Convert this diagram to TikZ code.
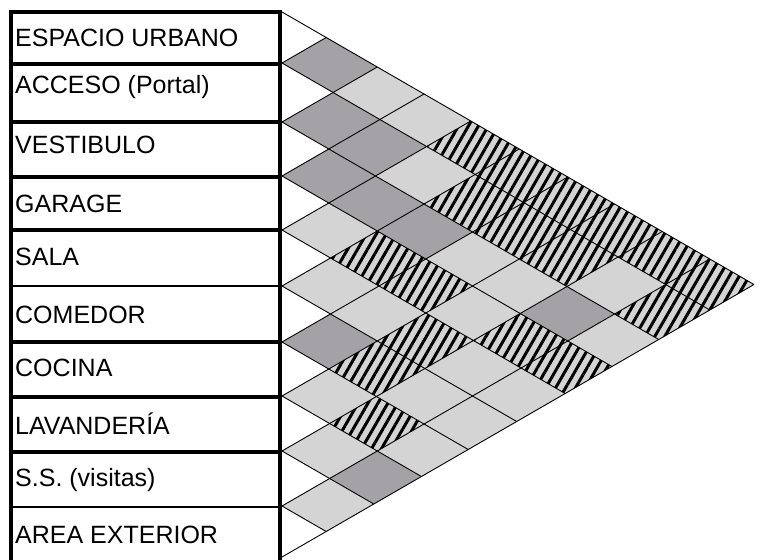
\documentclass[tikz,border=0pt]{standalone}
\usepackage{fontspec}
\setmainfont{Liberation Sans}
\usetikzlibrary{patterns.meta}
\definecolor{cDark}{RGB}{164,162,166}
\definecolor{cLight}{RGB}{212,212,212}
\begin{document}
\begin{tikzpicture}[x=1pt,y=-1pt,
  gridline/.style={black, line width=0.9pt},
  boxline/.style={black, line width=3.2pt},
  thinbox/.style={black, line width=2.2pt},
  hatchcell/.style={pattern={Lines[angle=60,distance=8.6pt,line width=3pt]},pattern color=black},
  lbl/.style={anchor=base west, inner sep=0pt, font=\fontsize{25}{30}\selectfont}]
\useasboundingbox (0,0) rectangle (759,559);
\clip (0,0) rectangle (759,559);
\def\B{{12,63,122,176,230,286,342,396,451,506,557}}
\def\xz{282}
\def\sl{0.57735}
% grid points: intersection of down-line from b_a and up-line from b_c
\foreach \a in {0,...,10}{
  \foreach \c in {\a,...,10}{
    \pgfmathsetmacro\ya{\B[\a]}
    \pgfmathsetmacro\yc{\B[\c]}
    \coordinate (P\a-\c) at ({\xz+(\yc-\ya)/(2*\sl)},{(\ya+\yc)/2});
  }
}
% dark cells
\foreach \i/\j in {1/2,2/3,3/4,6/7,2/4,3/5,8/10,3/6,3/9}{
  \pgfmathtruncatemacro\im{\i-1}
  \pgfmathtruncatemacro\jm{\j-1}
  \fill[cDark] (P\im-\jm) -- (P\im-\j) -- (P\i-\j) -- (P\i-\jm) -- cycle;
}
% light cells
\foreach \i/\j in {4/5,5/6,7/8,8/9,9/10,1/3,5/7,1/4,2/5,6/9,7/10,3/7,4/8,5/9,6/10,3/8,5/10,2/9,3/10}{
  \pgfmathtruncatemacro\im{\i-1}
  \pgfmathtruncatemacro\jm{\j-1}
  \fill[cLight] (P\im-\jm) -- (P\im-\j) -- (P\i-\j) -- (P\i-\jm) -- cycle;
}
% hatched cells
\foreach \i/\j in {4/6,6/8,7/9,4/7,5/8,1/5,2/6,1/6,2/7,4/9,1/7,2/8,4/10,1/8,1/9,2/10,1/10}{
  \pgfmathtruncatemacro\im{\i-1}
  \pgfmathtruncatemacro\jm{\j-1}
  \fill[cLight] (P\im-\jm) -- (P\im-\j) -- (P\i-\j) -- (P\i-\jm) -- cycle;
  \fill[hatchcell] (P\im-\jm) -- (P\im-\j) -- (P\i-\j) -- (P\i-\jm) -- cycle;
}
% grid lines
\foreach \k in {0,...,10}{
  \draw[gridline] (P\k-\k) -- (P\k-10);
  \draw[gridline] (P\k-\k) -- (P0-\k);
}
% label column
\coordinate (L0) at (11,12);
\coordinate (R0) at (280,12);
\coordinate (Lb) at (11,565);
\coordinate (Rb) at (280,565);
\draw[boxline] (L0) -- (Lb);
\draw[boxline] (R0) -- (Rb);
\foreach \y/\s in {12/boxline,64/boxline,122/boxline,177/boxline,230/boxline,286/thinbox,342/boxline,397/boxline,452/boxline,507/thinbox}{
  \draw[\s] (9.4,\y) -- (281.6,\y);
}
\node[lbl] (r1) at (15,47) {ESPACIO URBANO};
\node[lbl] (r2) at (15,94) {ACCESO (Portal)};
\node[lbl] (r3) at (15,153) {VESTIBULO};
\node[lbl] (r4) at (15,212) {GARAGE};
\node[lbl] (r5) at (15,265) {SALA};
\node[lbl] (r6) at (15,323) {COMEDOR};
\node[lbl] (r7) at (15,376) {COCINA};
\node[lbl] (r8) at (15,434) {LAVANDERÍA};
\node[lbl] (r9) at (15,486) {S.S. (visitas)};
\node[lbl] (r10) at (15,543) {AREA EXTERIOR};
\end{tikzpicture}
\end{document}
